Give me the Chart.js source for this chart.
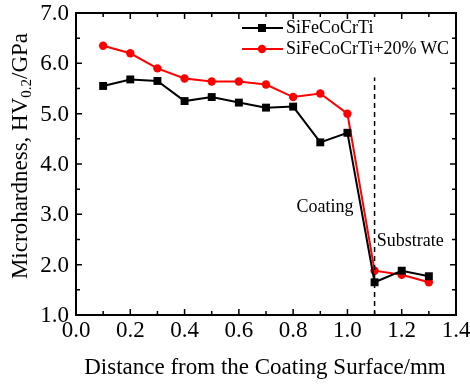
<!DOCTYPE html>
<html>
<head>
<meta charset="utf-8">
<script src="https://cdn.jsdelivr.net/npm/chart.js@4"></script>
<style>
  html, body { margin: 0; padding: 0; background: #fff; }
  #wrap { width: 470px; height: 385px; }
</style>
</head>
<body>
<div id="wrap"><canvas id="chart" width="470" height="385"></canvas></div>
<script>
const distances = [0.1, 0.2, 0.3, 0.4, 0.5, 0.6, 0.7, 0.8, 0.9, 1.0, 1.1, 1.2, 1.3];
const baseHardness = [5.55, 5.68, 5.65, 5.25, 5.33, 5.22, 5.12, 5.14, 4.43, 4.62, 1.65, 1.88, 1.77];
const wcHardness = [6.35, 6.20, 5.90, 5.70, 5.64, 5.64, 5.58, 5.33, 5.40, 5.00, 1.88, 1.80, 1.65];
const seriesNames = ["SiFeCoCrTi", "SiFeCoCrTi+20%\u2009WC"];
const xTicks = [0.0, 0.2, 0.4, 0.6, 0.8, 1.0, 1.2, 1.4];
const yTicks = [1.0, 2.0, 3.0, 4.0, 5.0, 6.0, 7.0];
const boundaryX = 1.1;
const boundaryTop = 5.72;

const serif = "'Liberation Serif', 'DejaVu Serif', serif";

const pts = (ys) => distances.map((x, i) => ({ x: x, y: ys[i] }));

// frame, inward ticks, tick labels, legend, titles
const decor = {
  id: "decor",
  afterDraw(chart) {
    const ctx = chart.ctx;
    const a = chart.chartArea;
    const xs = chart.scales.x;
    const ys = chart.scales.y;
    ctx.save();
    ctx.strokeStyle = "#000";
    ctx.lineWidth = 2;
    ctx.strokeRect(a.left, a.top, a.right - a.left, a.bottom - a.top);

    ctx.lineWidth = 1.5;
    for (let v = 0; v <= 1.4001; v += 0.1) {
      const px = xs.getPixelForValue(v);
      const major = Math.round(v * 10) % 2 === 0;
      const len = major ? 6 : 4;
      ctx.beginPath();
      ctx.moveTo(px, a.bottom); ctx.lineTo(px, a.bottom - len);
      ctx.moveTo(px, a.top); ctx.lineTo(px, a.top + len);
      ctx.stroke();
    }
    for (let v = 1; v <= 7.001; v += 0.5) {
      const py = ys.getPixelForValue(v);
      const major = Math.abs(v - Math.round(v)) < 0.01;
      const len = major ? 6 : 4;
      ctx.beginPath();
      ctx.moveTo(a.left, py); ctx.lineTo(a.left + len, py);
      ctx.moveTo(a.right, py); ctx.lineTo(a.right - len, py);
      ctx.stroke();
    }

    // tick labels
    ctx.fillStyle = "#000";
    ctx.font = "23px " + serif;
    ctx.textBaseline = "middle";
    ctx.textAlign = "center";
    xTicks.forEach(v => ctx.fillText(v.toFixed(1), xs.getPixelForValue(v), a.bottom + 16));
    ctx.textAlign = "right";
    yTicks.forEach(v => ctx.fillText(v.toFixed(1), a.left - 7, ys.getPixelForValue(v) + 1));

    // legend
    const items = [
      { name: seriesNames[0], color: "#000", style: "rect" },
      { name: seriesNames[1], color: "#ff0000", style: "circle" }
    ];
    ctx.font = "18px " + serif;
    items.forEach((it, i) => {
      const y = 28 + i * 21;
      ctx.strokeStyle = it.color;
      ctx.fillStyle = it.color;
      ctx.lineWidth = 2;
      ctx.beginPath();
      ctx.moveTo(242, y); ctx.lineTo(283, y);
      ctx.stroke();
      if (it.style === "rect") {
        ctx.fillRect(258, y - 4, 8, 8);
      } else {
        ctx.beginPath();
        ctx.arc(262, y, 4.2, 0, Math.PI * 2);
        ctx.fill();
      }
      ctx.fillStyle = "#000";
      ctx.textAlign = "left";
      ctx.fillText(it.name, 286, y);
    });

    // region labels
    ctx.font = "18px " + serif;
    ctx.fillStyle = "#000";
    ctx.textAlign = "left";
    ctx.fillText("Coating", xs.getPixelForValue(0.812), ys.getPixelForValue(3.15));
    ctx.fillText("Substrate", xs.getPixelForValue(1.108), ys.getPixelForValue(2.47));

    // axis titles
    ctx.font = "23px " + serif;
    ctx.textAlign = "center";
    ctx.fillText("Distance from the Coating Surface/mm", (a.left + a.right) / 2 - 1, 368);

    ctx.translate(21, (a.top + a.bottom) / 2 - 8);
    ctx.rotate(-Math.PI / 2);
    const p1 = "Microhardness, HV";
    const sub = "0.2";
    const p2 = "/GPa";
    ctx.font = "23px " + serif;
    const w1 = ctx.measureText(p1).width;
    const w3 = ctx.measureText(p2).width;
    ctx.font = "15px " + serif;
    const w2 = ctx.measureText(sub).width;
    let x0 = -(w1 + w2 + w3) / 2;
    ctx.textAlign = "left";
    ctx.font = "23px " + serif;
    ctx.fillText(p1, x0, 0);
    ctx.font = "15px " + serif;
    ctx.fillText(sub, x0 + w1, 6);
    ctx.font = "23px " + serif;
    ctx.fillText(p2, x0 + w1 + w2, 0);
    ctx.restore();
  }
};

new Chart(document.getElementById("chart"), {
  type: "scatter",
  data: {
    datasets: [
      {
        label: "boundary",
        data: [{ x: boundaryX, y: 1.0 }, { x: boundaryX, y: boundaryTop }],
        showLine: true,
        borderColor: "#000",
        borderWidth: 1.5,
        borderDash: [5, 4],
        pointRadius: 0
      },
      {
        label: seriesNames[0],
        data: pts(baseHardness),
        showLine: true,
        borderColor: "#000",
        backgroundColor: "#000",
        borderWidth: 2,
        pointStyle: "rect",
        pointRadius: 5.6,
        pointBorderWidth: 0
      },
      {
        label: seriesNames[1],
        data: pts(wcHardness),
        showLine: true,
        borderColor: "#ff0000",
        backgroundColor: "#ff0000",
        borderWidth: 2,
        pointStyle: "circle",
        pointRadius: 4.2,
        pointBorderWidth: 0
      }
    ]
  },
  options: {
    responsive: false,
    animation: false,
    layout: { padding: { top: 13, right: 14, left: 76, bottom: 70 } },
    plugins: { legend: { display: false }, tooltip: { enabled: false } },
    scales: {
      x: {
        type: "linear",
        min: 0,
        max: 1.4,
        display: false
      },
      y: {
        min: 1,
        max: 7,
        display: false
      }
    }
  },
  plugins: [decor]
});
</script>
</body>
</html>
